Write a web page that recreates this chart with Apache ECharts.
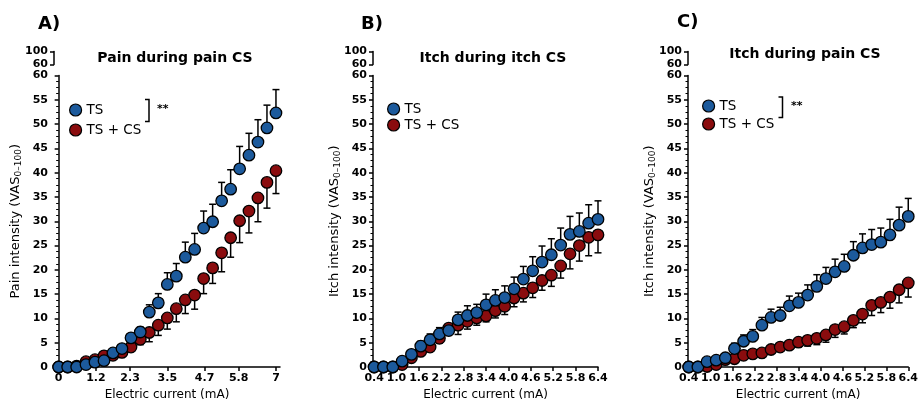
<!DOCTYPE html>
<html>
<head>
<meta charset="utf-8">
<script src="https://cdn.jsdelivr.net/npm/echarts@6/dist/echarts.min.js"></script>
<style>
  html, body { margin: 0; padding: 0; background: #fff; }
  #chart { width: 921px; height: 406px; }
</style>
</head>
<body>
<div id="chart"></div>
<script>
// x positions (mA)
var xA = [0, 0.29, 0.58, 0.88, 1.17, 1.46, 1.75, 2.04, 2.33, 2.63, 2.92, 3.21, 3.5,
          3.79, 4.08, 4.38, 4.67, 4.96, 5.25, 5.54, 5.83, 6.13, 6.42, 6.71, 7.0];
var xB = [0.4, 0.65, 0.9, 1.15, 1.4, 1.65, 1.9, 2.15, 2.4, 2.65, 2.9, 3.15, 3.4,
          3.65, 3.9, 4.15, 4.4, 4.65, 4.9, 5.15, 5.4, 5.65, 5.9, 6.15, 6.4];
var xC = xB;

// tick labels
var xTicksA = [0, 1.2, 2.3, 3.5, 4.7, 5.8, 7];
var xTicksB = [0.4, 1.0, 1.6, 2.2, 2.8, 3.4, 4.0, 4.6, 5.2, 5.8, 6.4];

// A) pain during pain CS
var tsA     = [0, 0, 0, 0.5, 1.0, 1.3, 2.9, 3.8, 6.0, 7.2, 11.3, 13.2, 17.0, 18.7, 22.6, 24.2, 28.6, 29.9, 34.2, 36.6, 40.8, 43.6, 46.3, 49.2, 52.3];
var tsAHi   = [0, 0, 0, 0.7, 1.3, 1.8, 3.4, 4.5, 6.8, 8.2, 12.8, 15.1, 19.4, 21.3, 25.7, 27.5, 32.1, 33.5, 38.0, 40.6, 45.4, 48.1, 50.9, 53.9, 57.1];
var tscsA   = [0, 0, 0.2, 1.1, 1.5, 2.3, 2.4, 3.0, 4.1, 5.7, 7.1, 8.6, 10.1, 12.0, 13.8, 14.8, 18.2, 20.4, 23.5, 26.6, 30.1, 32.1, 34.8, 38.0, 40.4];
var tscsALo = [0, 0, 0.2, 0.9, 1.2, 1.9, 1.9, 2.4, 3.3, 4.6, 5.2, 6.5, 7.8, 9.3, 11.0, 11.9, 15.1, 17.2, 19.6, 22.6, 25.6, 27.6, 29.9, 32.7, 35.7];

// B) itch during itch CS
var tsB     = [0, 0, 0, 1.2, 2.6, 4.3, 5.6, 6.8, 7.5, 9.7, 10.6, 11.2, 12.8, 13.7, 14.3, 16.1, 18.1, 19.8, 21.6, 23.1, 25.1, 27.3, 27.9, 29.6, 30.4];
var tsBHi   = [0, 0, 0, 1.4, 3.0, 5.3, 6.8, 8.1, 8.6, 11.3, 12.6, 12.9, 15.0, 15.9, 16.7, 18.5, 20.7, 22.7, 24.9, 26.4, 28.6, 31.0, 31.7, 33.4, 34.2];
var tscsB   = [0, 0, 0, 0.5, 1.9, 3.2, 4.1, 5.9, 8.0, 8.6, 9.4, 10.1, 10.5, 11.6, 12.5, 14.2, 15.2, 16.3, 17.8, 18.9, 20.8, 23.3, 25.0, 26.7, 27.2];
var tscsBLo = [0, 0, 0, 0.3, 1.6, 2.6, 3.3, 4.9, 6.9, 6.7, 7.8, 8.6, 9.3, 10.1, 10.8, 12.4, 13.4, 14.3, 15.8, 16.6, 18.3, 20.2, 21.8, 22.9, 23.5];

// C) itch during pain CS
var tsC     = [0, 0, 1.1, 1.4, 1.9, 3.8, 5.3, 6.3, 8.6, 10.2, 10.6, 12.6, 13.3, 14.8, 16.6, 18.2, 19.6, 20.7, 23.0, 24.5, 25.2, 25.7, 27.2, 29.2, 31.0];
var tsCHi   = [0, 0, 1.3, 1.7, 2.3, 4.9, 6.6, 7.7, 10.2, 11.9, 12.3, 14.6, 15.2, 16.9, 19.0, 20.5, 22.2, 23.2, 25.8, 27.4, 28.3, 28.6, 30.4, 32.9, 34.7];
var tscsC   = [0, 0, 0.1, 0.5, 1.5, 1.7, 2.4, 2.7, 2.9, 3.6, 4.1, 4.5, 5.1, 5.5, 5.9, 6.6, 7.7, 8.3, 9.6, 10.9, 12.7, 13.3, 14.4, 15.9, 17.3];
var tscsCLo = [0, 0, 0, 0.3, 1.2, 1.4, 2.0, 2.3, 2.4, 3.1, 3.6, 3.9, 4.1, 4.3, 4.6, 5.1, 6.1, 6.8, 8.1, 9.1, 10.6, 11.2, 12.1, 13.2, 14.4];

var blue = '#1c5a9c';
var red = '#8a0c0e';
var font = 'DejaVu Sans';

var chart = echarts.init(document.getElementById('chart'));

function pts(xs, ys) {
  return xs.map(function (x, i) { return [x, ys[i]]; });
}
function bars(xs, ys, ends) {
  return xs.map(function (x, i) { return [x, ys[i], ends[i]]; });
}

function errItem(params, api) {
  var p0 = api.coord([api.value(0), api.value(1)]);
  var p1 = api.coord([api.value(0), api.value(2)]);
  if (Math.abs(p1[1] - p0[1]) < 1) return null;
  var w = 3.5;
  return {
    type: 'group',
    children: [
      { type: 'line', shape: { x1: p0[0], y1: p0[1], x2: p1[0], y2: p1[1] },
        style: { stroke: '#000', lineWidth: 1.5 } },
      { type: 'line', shape: { x1: p1[0] - w, y1: p1[1], x2: p1[0] + w, y2: p1[1] },
        style: { stroke: '#000', lineWidth: 1.5 } }
    ]
  };
}

var labelStyle = { color: '#000', fontFamily: font, fontWeight: 'bold', fontSize: 11 };
var lineStyle = { color: '#000', width: 1.5 };

var panels = [
  { left: 54, width: 226, min: -0.15, max: 7.13, ticks: xTicksA, fmt: function (v) { return String(v); },
    yname: 'Pain intensity (VAS{s|0–100})', xs: xA,
    ts: tsA, tsHi: tsAHi, tscs: tscsA, tscsLo: tscsALo },
  { left: 373, width: 225, min: 0.37, max: 6.4, ticks: xTicksB, fmt: function (v) { return v.toFixed(1); },
    yname: 'Itch intensity (VAS{s|0–100})', xs: xB,
    ts: tsB, tsHi: tsBHi, tscs: tscsB, tscsLo: tscsBLo },
  { left: 688, width: 223, min: 0.38, max: 6.4, ticks: xTicksB, fmt: function (v) { return v.toFixed(1); },
    yname: 'Itch intensity (VAS{s|0–100})', xs: xC,
    ts: tsC, tsHi: tsCHi, tscs: tscsC, tscsLo: tscsCLo }
];

var grid = [], xAxis = [], yAxis = [], series = [];

panels.forEach(function (p, k) {
  var gMain = grid.length;
  grid.push({ left: p.left, top: 75.5, width: p.width, height: 292.5 });
  grid.push({ left: p.left, top: 51.5, width: 10, height: 13 });

  xAxis.push({
    type: 'value', gridIndex: gMain, min: p.min, max: p.max,
    name: 'Electric current (mA)', nameLocation: 'middle', nameGap: 22,
    nameTextStyle: { color: '#000', fontFamily: font, fontSize: 12 },
    axisLine: { lineStyle: lineStyle },
    axisTick: { customValues: p.ticks, length: 4, lineStyle: lineStyle },
    axisLabel: Object.assign({ customValues: p.ticks, formatter: p.fmt, margin: 6 }, labelStyle),
    splitLine: { show: false }
  });
  xAxis.push({ type: 'value', gridIndex: gMain + 1, show: false, min: 0, max: 1 });

  yAxis.push({
    type: 'value', gridIndex: gMain, min: 0, max: 60, interval: 5,
    name: p.yname, nameLocation: 'middle', nameGap: 31, nameRotate: 90,
    nameTextStyle: {
      color: '#000', fontFamily: font, fontSize: 13,
      rich: { s: { fontSize: 9, fontFamily: font, color: '#000', padding: [6, 0, 0, 0] } }
    },
    axisLine: { show: true, lineStyle: lineStyle },
    axisTick: { show: true, length: 4, lineStyle: lineStyle },
    minorTick: { show: true, splitNumber: 4, length: 2.5, lineStyle: { color: '#000', width: 1 } },
    axisLabel: Object.assign({ margin: 6 }, labelStyle),
    splitLine: { show: false }
  });
  yAxis.push({
    type: 'value', gridIndex: gMain + 1, min: 60, max: 100,
    axisLine: { show: true, lineStyle: lineStyle },
    axisTick: { show: true, length: 4, customValues: [60, 100], lineStyle: lineStyle },
    axisLabel: Object.assign({ margin: 6, customValues: [60, 100] }, labelStyle),
    splitLine: { show: false }
  });

  series.push({
    type: 'custom', name: 'err-ts-cs-' + k, xAxisIndex: gMain, yAxisIndex: gMain,
    renderItem: errItem, data: bars(p.xs, p.tscs, p.tscsLo), z: 2
  });
  series.push({
    type: 'custom', name: 'err-ts-' + k, xAxisIndex: gMain, yAxisIndex: gMain,
    renderItem: errItem, data: bars(p.xs, p.ts, p.tsHi), z: 2
  });
  series.push({
    type: 'scatter', name: 'TS + CS', xAxisIndex: gMain, yAxisIndex: gMain,
    symbolSize: 11.5, clip: false, z: 3,
    itemStyle: { color: red, borderColor: '#000', borderWidth: 1.3, opacity: 1 },
    data: pts(p.xs, p.tscs)
  });
  series.push({
    type: 'scatter', name: 'TS', xAxisIndex: gMain, yAxisIndex: gMain,
    symbolSize: 11.5, clip: false, z: 4,
    itemStyle: { color: blue, borderColor: '#000', borderWidth: 1.3, opacity: 1 },
    data: pts(p.xs, p.ts)
  });
});

var legendBase = {
  orient: 'vertical', icon: 'circle', itemWidth: 12, itemHeight: 12, itemGap: 4,
  selectedMode: false, data: ['TS', 'TS + CS'],
  itemStyle: { borderColor: '#000', borderWidth: 1.2 },
  textStyle: { color: '#000', fontFamily: font, fontSize: 13.5 }
};

var titleStyle = { color: '#000', fontFamily: font, fontWeight: 'bold', fontSize: 14 };
var letterStyle = { color: '#000', fontFamily: font, fontWeight: 'bold', fontSize: 18 };

function bracket(x, y1, y2) {
  return {
    type: 'polyline',
    shape: { points: [[x - 4, y1], [x, y1], [x, y2], [x - 4, y2]] },
    style: { stroke: '#000', lineWidth: 1.5, fill: null }
  };
}

var option = {
  animation: false,
  backgroundColor: '#fff',
  title: [
    { text: 'Pain during pain CS', left: 170, top: 46, textAlign: 'center', textStyle: titleStyle },
    { text: 'Itch during itch CS', left: 488, top: 46, textAlign: 'center', textStyle: titleStyle },
    { text: 'Itch during pain CS', left: 800, top: 42, textAlign: 'center', textStyle: titleStyle },
    { text: 'A)', left: 33, top: 10, textStyle: letterStyle },
    { text: 'B)', left: 356, top: 10, textStyle: letterStyle },
    { text: 'C)', left: 672, top: 8, textStyle: letterStyle }
  ],
  legend: [
    Object.assign({}, legendBase, { left: 64, top: 98, itemGap: 6 }),
    Object.assign({}, legendBase, { left: 382, top: 97, itemGap: 2 }),
    Object.assign({}, legendBase, { left: 697, top: 94, itemGap: 4 })
  ],
  grid: grid,
  xAxis: xAxis,
  yAxis: yAxis,
  series: series,
  graphic: [
    bracket(149, 99.5, 121.5),
    { type: 'text', left: 157, top: 104,
      style: { text: '**', fill: '#000', font: 'bold 11px "DejaVu Sans"' } },
    bracket(782.5, 97, 117.5),
    { type: 'text', left: 791, top: 101,
      style: { text: '**', fill: '#000', font: 'bold 11px "DejaVu Sans"' } }
  ]
};

chart.setOption(option);
window.addEventListener('resize', function () {
  chart.resize();
});
</script>
</body>
</html>
